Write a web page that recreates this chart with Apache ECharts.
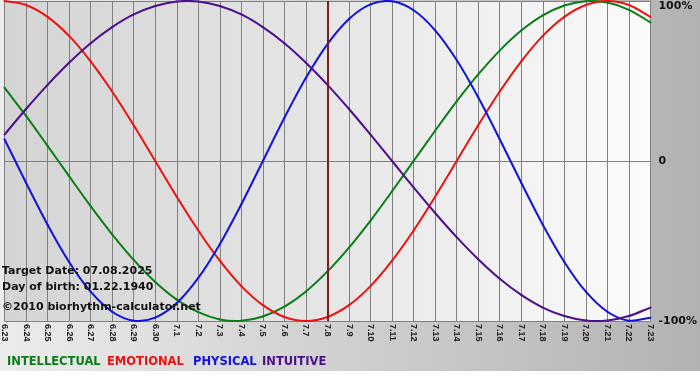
<!DOCTYPE html>
<html><head><meta charset="utf-8">
<script src="https://cdn.jsdelivr.net/npm/echarts@6/dist/echarts.min.js"></script>
<style>
html,body{margin:0;padding:0;}
body{width:700px;height:380px;overflow:hidden;
background:linear-gradient(to bottom, rgba(255,255,255,0) 371px, #ffffff 371px), linear-gradient(to right,#ececec,#b2b2b2);}
#c{width:700px;height:380px;}
</style></head><body><div id="c"></div>
<script>
const days = ['6.23','6.24','6.25','6.26','6.27','6.28','6.29','6.30','7.1','7.2','7.3','7.4','7.5','7.6','7.7','7.8','7.9','7.10','7.11','7.12','7.13','7.14','7.15','7.16','7.17','7.18','7.19','7.20','7.21','7.22','7.23'];
const intellectual = [45.8,28.2,9.5,-9.5,-28.2,-45.8,-61.8,-75.6,-86.6,-94.5,-99.0,-99.9,-97.2,-91.0,-81.5,-69.0,-54.1,-37.2,-18.9,0,18.9,37.2,54.1,69.0,81.5,91.0,97.2,99.9,99.0,94.5,86.6];
const emotional = [100,97.5,90.1,78.2,62.3,43.4,22.3,0,-22.3,-43.4,-62.3,-78.2,-90.1,-97.5,-100,-97.5,-90.1,-78.2,-62.3,-43.4,-22.3,0,22.3,43.4,62.3,78.2,90.1,97.5,100,97.5,90.1];
const physical = [13.6,-13.6,-39.8,-63.1,-81.7,-94.2,-99.8,-97.9,-88.8,-73.1,-52.0,-27.0,0,27.0,52.0,73.1,88.8,97.9,99.8,94.2,81.7,63.1,39.8,13.6,-13.6,-39.8,-63.1,-81.7,-94.2,-99.8,-97.9];
const intuitive = [16.5,32.5,47.6,61.4,73.6,83.7,91.6,96.9,99.7,99.7,96.9,91.6,83.7,73.6,61.4,47.6,32.5,16.5,0,-16.5,-32.5,-47.6,-61.4,-73.6,-83.7,-91.6,-96.9,-99.7,-99.7,-96.9,-91.6];
const targetDay = '7.8';
const yTicks = {'100':'100%','0':'0','-100':'-100%'};
const infoLines = ['Target Date: 07.08.2025','Day of birth: 01.22.1940','©2010 biorhythm-calculator.net'];
const legendNames = ['INTELLECTUAL','EMOTIONAL','PHYSICAL','INTUITIVE'];
const colors = ['#0b7d18','#ee1111','#1212dd','#4b108a'];

const FONT = '"DejaVu Sans", Verdana, sans-serif';
const chart = echarts.init(document.getElementById('c'), null, {renderer:'canvas'});

// Smooth (Catmull-Rom) curve through the daily values, positioned via the axes (api.coord)
function curveSeries(name, vals, color){
  const n = vals.length;
  return {
    name, type:'custom', clip:false, z:3,
    encode:{x:0,y:1},
    data: vals.map((v,i)=>[i,v]),
    renderItem(params, api){
      const i = params.dataIndex;
      if (i >= n-1) return null;
      const P = k => api.coord([k, vals[k]]);
      const p1 = P(i), p2 = P(i+1);
      const p0 = i > 0 ? P(i-1) : [2*p1[0]-p2[0], 2*p1[1]-p2[1]];
      const p3 = i+2 < n ? P(i+2) : [2*p2[0]-p1[0], 2*p2[1]-p1[1]];
      return {
        type:'bezierCurve',
        shape:{
          x1:p1[0], y1:p1[1], x2:p2[0], y2:p2[1],
          cpx1:p1[0]+(p2[0]-p0[0])/6, cpy1:p1[1]+(p2[1]-p0[1])/6,
          cpx2:p2[0]-(p3[0]-p1[0])/6, cpy2:p2[1]-(p3[1]-p1[1])/6
        },
        style:{stroke:color, lineWidth:2, fill:null, lineCap:'round'}
      };
    }
  };
}

chart.setOption({
  backgroundColor:'transparent',
  animation:false,
  grid:{left:0,right:49,top:1,bottom:59,show:true,borderWidth:0,
    backgroundColor:{type:'linear',x:0,y:0,x2:1,y2:0,colorStops:[{offset:0,color:'#d4d4d4'},{offset:0.5,color:'#e6e6e6'},{offset:1,color:'#fbfbfb'}]}},
  xAxis:{type:'category',data:days,boundaryGap:false,
    axisLine:{show:true,lineStyle:{color:'#808080',width:1}},
    axisTick:{show:false},
    splitLine:{show:true,interval:0,lineStyle:{color:'#808080',width:1}},
    axisLabel:{interval:0,rotate:-90,margin:3,fontFamily:'"Liberation Sans", Arial, sans-serif',fontWeight:'bold',fontSize:9,color:'#222'}},
  yAxis:{type:'value',position:'right',min:-100,max:100,interval:100,
    axisLine:{show:false},axisTick:{show:false},
    splitLine:{show:true,lineStyle:{color:'#808080',width:1}},
    axisLabel:{margin:8,fontFamily:FONT,fontWeight:'bold',fontSize:11,color:'#111',
      verticalAlignMaxLabel:'top',
      formatter:v=>yTicks[String(v)]||''}},
  series:[
    curveSeries(legendNames[0], intellectual, colors[0]),
    curveSeries(legendNames[1], emotional, colors[1]),
    curveSeries(legendNames[2], physical, colors[2]),
    curveSeries(legendNames[3], intuitive, colors[3]),
    {name:'target', type:'line', data:[], z:4,
      markLine:{silent:true,symbol:['none','none'],label:{show:false},
        lineStyle:{color:'#7e1c1c',width:2,type:'solid'},
        data:[{xAxis:targetDay}]}}
  ],
  graphic:[
    {type:'text',left:2,top:266,z:100,style:{text:infoLines[0],font:'bold 11px '+FONT,fill:'#111'}},
    {type:'text',left:2,top:282,z:100,style:{text:infoLines[1],font:'bold 11px '+FONT,fill:'#111'}},
    {type:'text',left:2,top:302,z:100,style:{text:infoLines[2],font:'bold 11px '+FONT,fill:'#111'}},
    {type:'text',left:7,top:356,z:100,style:{text:legendNames[0],font:'bold 11.5px '+FONT,fill:colors[0]}},
    {type:'text',left:107,top:356,z:100,style:{text:legendNames[1],font:'bold 11.5px '+FONT,fill:colors[1]}},
    {type:'text',left:193,top:356,z:100,style:{text:legendNames[2],font:'bold 11.5px '+FONT,fill:colors[2]}},
    {type:'text',left:262,top:356,z:100,style:{text:legendNames[3],font:'bold 11.5px '+FONT,fill:colors[3]}}
  ]
});
</script></body></html>
